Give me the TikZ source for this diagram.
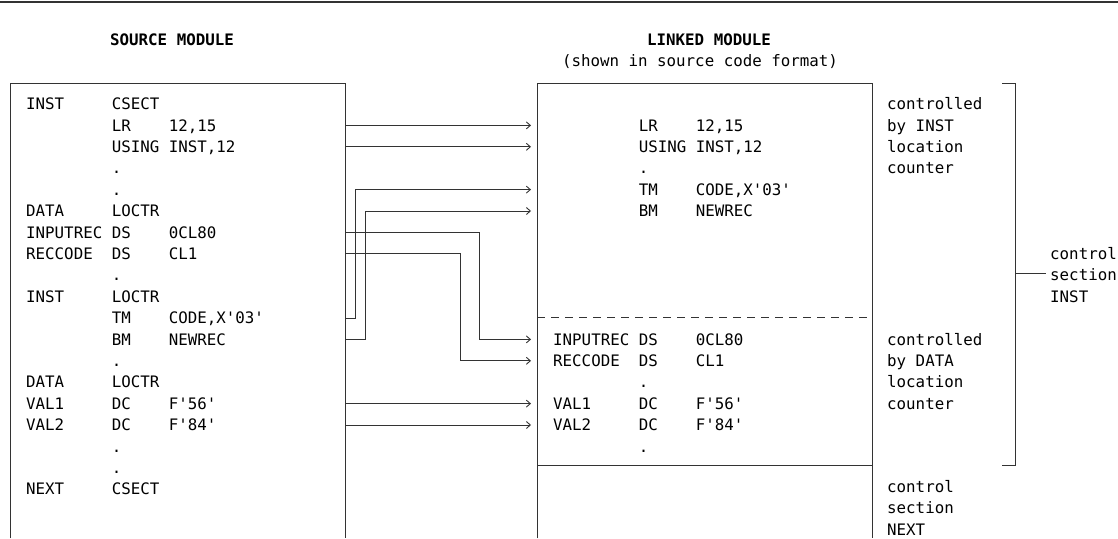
\documentclass[tikz,border=0pt]{standalone}
\usepackage{fontspec}
\setmonofont{DejaVu Sans Mono}
\usetikzlibrary{arrows.meta}
\tikzstyle{CodeText}=[anchor=west, inner sep=0pt, text height=11.5pt, text depth=0pt, text=black, font=\ttfamily\fontsize{15.8}{19}\selectfont]
\tikzstyle{HeadText}=[CodeText, anchor=center, font=\ttfamily\bfseries\fontsize{15.8}{19}\selectfont]
\tikzstyle{ModBox}=[rectangle, draw=none, inner sep=0pt, anchor=north west, minimum width=335pt, minimum height=455pt]
\tikzstyle{ModLine}=[draw=black!80, line width=0.9pt]
\tikzstyle{SplitLine}=[ModLine, dash pattern=on 8pt off 6pt]
\tikzstyle{LinkEdge}=[ModLine, -{Straight Barb[length=4pt, width=7pt]}, shorten >=6pt]
\newcommand{\asm}[3]{\makebox[85.6pt][l]{#1}\makebox[57.1pt][l]{#2}#3}

\begin{document}
\begin{tikzpicture}[x=1pt, y=-1pt]
\useasboundingbox (0,0) rectangle (1118,538);
\draw[line width=1.5pt, black!80] (0,2) -- (1118,2);

% headings
\node[HeadText](SrcHead) at (172,40) {SOURCE MODULE};
\node[HeadText](LnkHead) at (709,40) {LINKED MODULE};
\node[CodeText, anchor=center](LnkSub) at (700,61) {(shown in source code format)};

% module frames
\node[ModBox](SrcBox) at (10,83) {};
\node[ModBox](LnkBox) at (537,83) {};
\draw[ModLine] (SrcBox.south west) |- (SrcBox.north east) -- (SrcBox.south east);
\draw[ModLine] (LnkBox.south west) |- (LnkBox.north east) -- (LnkBox.south east);
\draw[SplitLine] (537,317) -- (872,317);
\draw[ModLine] (537,465) -- (872,465);

% source module
\node[CodeText](SrcInst) at (26,104) {\asm{INST}{CSECT}{}};
\node[CodeText](SrcLR) at (26,125.4) {\asm{}{LR}{12,15}};
\node[CodeText](SrcUsing) at (26,146.8) {\asm{}{USING}{INST,12}};
\node[CodeText](SrcDotA) at (26,168.2) {\asm{}{.}{}};
\node[CodeText](SrcDotB) at (26,189.6) {\asm{}{.}{}};
\node[CodeText](SrcData) at (26,211) {\asm{DATA}{LOCTR}{}};
\node[CodeText](SrcInput) at (26,232.4) {\asm{INPUTREC}{DS}{0CL80}};
\node[CodeText](SrcRec) at (26,253.8) {\asm{RECCODE}{DS}{CL1}};
\node[CodeText](SrcDotC) at (26,275.2) {\asm{}{.}{}};
\node[CodeText](SrcInstB) at (26,296.6) {\asm{INST}{LOCTR}{}};
\node[CodeText](SrcTM) at (26,318) {\asm{}{TM}{CODE,X'03'}};
\node[CodeText](SrcBM) at (26,339.4) {\asm{}{BM}{NEWREC}};
\node[CodeText](SrcDotD) at (26,360.8) {\asm{}{.}{}};
\node[CodeText](SrcDataB) at (26,382.2) {\asm{DATA}{LOCTR}{}};
\node[CodeText](SrcVal1) at (26,403.6) {\asm{VAL1}{DC}{F'56'}};
\node[CodeText](SrcVal2) at (26,425) {\asm{VAL2}{DC}{F'84'}};
\node[CodeText](SrcDotE) at (26,446.4) {\asm{}{.}{}};
\node[CodeText](SrcDotF) at (26,467.8) {\asm{}{.}{}};
\node[CodeText](SrcNext) at (26,489.2) {\asm{NEXT}{CSECT}{}};

% linked module
\node[CodeText](LnkLR) at (553,125.4) {\asm{}{LR}{12,15}};
\node[CodeText](LnkUsing) at (553,146.8) {\asm{}{USING}{INST,12}};
\node[CodeText](LnkDotA) at (553,168.2) {\asm{}{.}{}};
\node[CodeText](LnkTM) at (553,189.6) {\asm{}{TM}{CODE,X'03'}};
\node[CodeText](LnkBM) at (553,211) {\asm{}{BM}{NEWREC}};
\node[CodeText](LnkInput) at (553,339.4) {\asm{INPUTREC}{DS}{0CL80}};
\node[CodeText](LnkRec) at (553,360.8) {\asm{RECCODE}{DS}{CL1}};
\node[CodeText](LnkDotB) at (553,382.2) {\asm{}{.}{}};
\node[CodeText](LnkVal1) at (553,403.6) {\asm{VAL1}{DC}{F'56'}};
\node[CodeText](LnkVal2) at (553,425) {\asm{VAL2}{DC}{F'84'}};
\node[CodeText](LnkDotC) at (553,446.4) {\asm{}{.}{}};

% notes
\node[CodeText](InstCtlA) at (887,104) {controlled};
\node[CodeText](InstCtlB) at (887,125.4) {by INST};
\node[CodeText](InstCtlC) at (887,146.8) {location};
\node[CodeText](InstCtlD) at (887,168.2) {counter};
\node[CodeText](DataCtlA) at (887,339.4) {controlled};
\node[CodeText](DataCtlB) at (887,360.8) {by DATA};
\node[CodeText](DataCtlC) at (887,382.2) {location};
\node[CodeText](DataCtlD) at (887,403.6) {counter};
\node[CodeText](NextSecA) at (887,487) {control};
\node[CodeText](NextSecB) at (887,508.2) {section};
\node[CodeText](NextSecC) at (887,529.4) {NEXT};
\node[CodeText](InstSecA) at (1050,253.8) {control};
\node[CodeText](InstSecB) at (1050,275.2) {section};
\node[CodeText](InstSecC) at (1050,296.6) {INST};

% bracket
\draw[ModLine] (1002,83) -| (1015,465) -- (1002,465);
\draw[ModLine] (1015,273) -- (1046,273);

% links
\draw[LinkEdge] (SrcBox.east |- SrcLR.west) -- (LnkBox.west |- LnkLR.west);
\draw[LinkEdge] (SrcBox.east |- SrcUsing.west) -- (LnkBox.west |- LnkUsing.west);
\draw[LinkEdge] (SrcBox.east |- SrcTM.west) -- ++(10,0) |- (LnkBox.west |- LnkTM.west);
\draw[LinkEdge] (SrcBox.east |- SrcBM.west) -- ++(20,0) |- (LnkBox.west |- LnkBM.west);
\draw[LinkEdge] (SrcBox.east |- SrcInput.west) -- ++(134,0) |- (LnkBox.west |- LnkInput.west);
\draw[LinkEdge] (SrcBox.east |- SrcRec.west) -- ++(115,0) |- (LnkBox.west |- LnkRec.west);
\draw[LinkEdge] (SrcBox.east |- SrcVal1.west) -- (LnkBox.west |- LnkVal1.west);
\draw[LinkEdge] (SrcBox.east |- SrcVal2.west) -- (LnkBox.west |- LnkVal2.west);
\end{tikzpicture}
\end{document}
